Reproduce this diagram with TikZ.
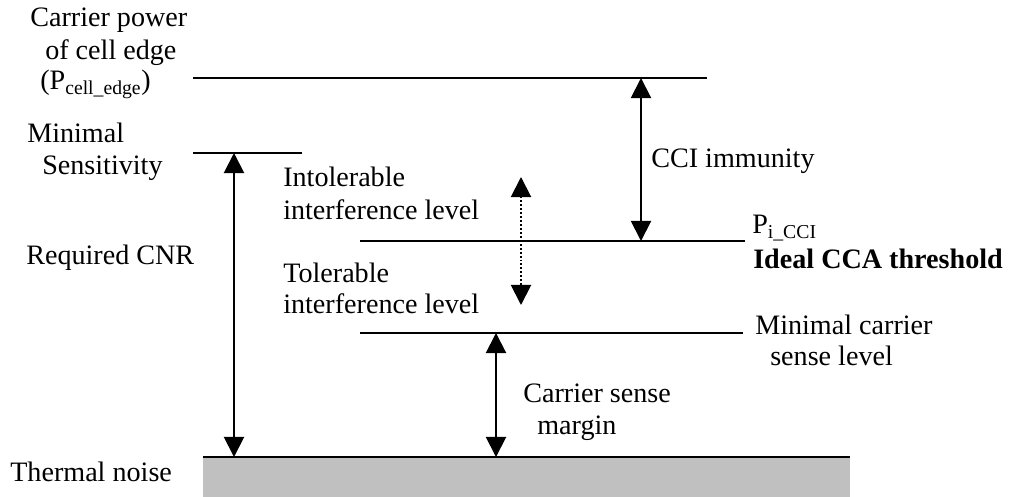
\documentclass[tikz,border=0pt]{standalone}
\usepackage{fontspec}
\setmainfont{Liberation Serif}
\usetikzlibrary{arrows.meta}
\definecolor{noisegray}{RGB}{192,192,192}

\begin{document}
\begin{tikzpicture}[x=0.025cm, y=-0.025cm,
    every node/.style={inner sep=0pt, anchor=base west, font=\fontsize{20}{23}\selectfont},
    level/.style={line width=1.4pt},
    span/.style={line width=1.4pt, >={Triangle[width=5mm,length=5mm]}, <->},
    hint/.style={span, dash pattern=on 1.4pt off 1.4pt}]
  \useasboundingbox (0,0) rectangle (1013,497);

  % power levels
  \coordinate (edge-l) at (193,78);   \coordinate (edge-r) at (707,78);
  \coordinate (sens-l) at (193,153);  \coordinate (sens-r) at (302,153);
  \coordinate (cca-l) at (360,241);   \coordinate (cca-r) at (745,241);
  \coordinate (csl-l) at (360,333);   \coordinate (csl-r) at (743,333);
  \coordinate (noise-l) at (203,457); \coordinate (noise-r) at (850,457);
  \coordinate (noise-b) at (850,497);

  \fill[noisegray] (noise-l) rectangle (noise-b);
  \draw[level] (noise-l) -- (noise-r);
  \draw[level] (edge-l) -- (edge-r);
  \draw[level] (sens-l) -- (sens-r);
  \draw[level] (cca-l) -- (cca-r);
  \draw[level] (csl-l) -- (csl-r);

  % margins between levels
  \coordinate (cnr-t) at (234,153);  \coordinate (cnr-b) at (234,457);
  \coordinate (cci-t) at (641,78);   \coordinate (cci-b) at (641,241);
  \coordinate (csm-t) at (496,333);  \coordinate (csm-b) at (496,457);
  \coordinate (itf-t) at (521,177);  \coordinate (itf-b) at (521,305);

  \draw[span] (cnr-t) -- (cnr-b);
  \draw[span] (cci-t) -- (cci-b);
  \draw[span] (csm-t) -- (csm-b);
  \draw[hint] (itf-t) -- (itf-b);

  % labels
  \node (cp1) at (30,27) {Carrier power};
  \node (cp2) at (45,60) {of cell edge};
  \node (cp3) at (40,90) {(P\textsubscript{cell\_edge})};
  \node (ms1) at (27,143) {Minimal};
  \node (ms2) at (42,175) {Sensitivity};
  \node (cnr) at (26,265) {Required CNR};
  \node (tn) at (10,482) {Thermal noise};
  \node (int1) at (283,187) {Intolerable};
  \node (int2) at (283,220) {interference level};
  \node (tol1) at (283,283) {Tolerable};
  \node (tol2) at (283,314) {interference level};
  \node (cci) at (651,168) {CCI immunity};
  \node (pcci) at (752,234) {P\textsubscript{i\_CCI}};
  \node[font=\fontsize{20}{23}\selectfont\bfseries] (ideal) at (753,269) {Ideal CCA threshold};
  \node (mc1) at (755,335) {Minimal carrier};
  \node (mc2) at (770,366) {sense level};
  \node (csm1) at (523,403) {Carrier sense};
  \node (csm2) at (537,435) {margin};
\end{tikzpicture}
\end{document}
